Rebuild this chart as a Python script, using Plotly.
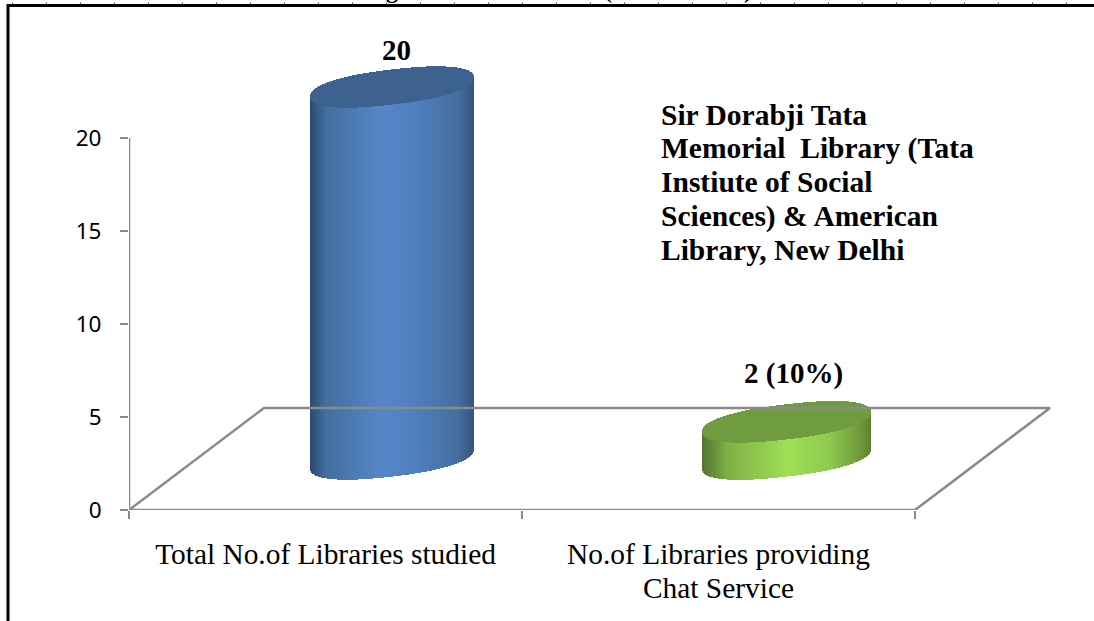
import numpy as np
import plotly.graph_objects as go

categories = ["Total No.of Libraries studied", "No.of Libraries providing"]
category_second_line = ["", "Chat Service"]
values = [20, 2]
value_labels = ["20", "2 (10%)"]
y_ticks = [0, 5, 10, 15, 20]
note_lines = ["Sir Dorabji Tata", "Memorial  Library (Tata", "Instiute of Social",
              "Sciences) & American", "Library, New Delhi"]
clipped_title_bits = [("g", 392), ("(", 608), (")", 748)]
side_stops = [
    [(0, "#2b4a72"), (0.1, "#44709f"), (0.45, "#5687c9"), (0.65, "#4f7fbf"), (0.9, "#456f9f"), (1, "#36557f")],
    [(0, "#55752f"), (0.15, "#7faf45"), (0.5, "#9fe056"), (0.75, "#90cc50"), (0.95, "#6d9538"), (1, "#5e7f30")],
]
cap_colours = ["#3d6290", "#6f9c3e"]

W, H = 1094, 621
L, R, T, B = 129, 1060, 40, 510
PX_X = 393.0       # pixels per category
PX_Y = 18.6        # pixels per value unit
DEPTH_X = 135 / PX_X
DEPTH_Y = 102 / PX_Y
half_widths = [82 / PX_X, 84.5 / PX_X]
centre_nudge = [-1 / PX_X, 0.5 / PX_X]
SHEAR = 9.5 / 82    # rise of the ellipse, per horizontal pixel
MINOR = 17.6 / PX_Y  # ellipse half height
ROUND = 2.3
GREY = "#8a8a8a"


def px(x):
    return (x - L) / (R - L)


def py(y):
    return (B - y) / (B - T)


def rgb(h):
    return np.array([int(h[i:i + 2], 16) for i in (1, 3, 5)], float)


def shade(stops, t):
    p = [s[0] for s in stops]
    c = np.array([rgb(s[1]) for s in stops])
    return ["rgb(%d,%d,%d)" % tuple(np.interp(v, p, c[:, k]) for k in range(3)) for v in t]


fig = go.Figure()

# floor and axes
fig.add_trace(go.Scatter(
    x=[-0.5, -0.5 + DEPTH_X, 1.5 + DEPTH_X, 1.5],
    y=[0, DEPTH_Y, DEPTH_Y, 0], mode="lines",
    line=dict(color=GREY, width=2.5), cliponaxis=False, hoverinfo="skip"))
fig.add_trace(go.Scatter(
    x=[-0.5, -0.5, None, -0.5, 1.5], y=[y_ticks[-1], 0, None, 0, 0], mode="lines",
    line=dict(color=GREY, width=2.5), cliponaxis=False, hoverinfo="skip"))

# cylinders, built from one-pixel bars
for i, v in enumerate(values):
    hw = half_widths[i]
    cx = i + DEPTH_X / 2 + centre_nudge[i]
    xs = np.arange(-hw, hw, 1 / PX_X) + 0.5 / PX_X
    u = np.clip(xs / hw, -1, 1)
    tilt = SHEAR * u * hw * PX_X / PX_Y
    arc = MINOR * (1 - np.abs(u) ** ROUND) ** (1 / ROUND)
    base0 = DEPTH_Y / 2 + tilt
    fig.add_trace(go.Bar(
        x=cx + xs, y=[v] * len(xs), base=base0 - arc, width=1 / PX_X,
        marker=dict(color=shade(side_stops[i], (u + 1) / 2), line=dict(width=0)),
        hoverinfo="skip"))
    fig.add_trace(go.Bar(
        x=cx + xs, y=2 * arc, base=base0 - arc + v, width=1 / PX_X,
        marker=dict(color=cap_colours[i], line=dict(width=0)),
        hoverinfo="skip"))

annotations = []
serif = "Liberation Serif"
label_shift = [3, 7]
label_y = [50, 373]
for i, (v, s) in enumerate(zip(values, value_labels)):
    annotations.append(dict(
        x=i + DEPTH_X / 2, y=v + DEPTH_Y / 2, xref="x", yref="y", text="<b>%s</b>" % s,
        showarrow=False, xanchor="center", yanchor="middle",
        xshift=label_shift[i],
        yshift=(510 - DEPTH_Y / 2 * PX_Y - v * PX_Y) - label_y[i],
        font=dict(family=serif, size=29, color="black")))
for k, line in enumerate(note_lines):
    annotations.append(dict(
        x=px(659), y=py(115 + 33.7 * k), xref="paper", yref="paper",
        text="<b>%s</b>" % line, showarrow=False, xanchor="left", yanchor="middle",
        font=dict(family=serif, size=29.5, color="black")))
for i, line in enumerate(category_second_line):
    if line:
        annotations.append(dict(
            x=i, y=py(588), xref="x", yref="paper", text=line, showarrow=False,
            xanchor="center", yanchor="middle",
            font=dict(family=serif, size=29.4, color="black")))
for bit, x in clipped_title_bits:
    annotations.append(dict(
        x=px(x), y=py(-10), xref="paper", yref="paper", text="<b>%s</b>" % bit,
        showarrow=False, xanchor="center", yanchor="middle",
        font=dict(family=serif, size=24, color="black")))

shapes = [
    dict(type="rect", xref="paper", yref="paper", x0=px(-5), x1=px(1100), y0=py(3.5), y1=py(7.5),
         fillcolor="white", line=dict(width=0), layer="above"),
    dict(type="line", xref="paper", yref="paper", x0=px(8), x1=px(1094), y0=py(5.5), y1=py(5.5),
         line=dict(color="black", width=3)),
    dict(type="line", xref="paper", yref="paper", x0=px(8), x1=px(8), y0=py(621), y1=py(4),
         line=dict(color="black", width=3)),
    dict(type="line", xref="paper", yref="paper", x0=px(12), x1=px(1094), y0=py(3.5), y1=py(3.5),
         line=dict(color="#555555", width=2, dash="1px,33px")),
]

fig.update_layout(
    width=W, height=H, barmode="overlay", bargap=0, showlegend=False,
    margin=dict(l=L, r=W - R, t=T, b=H - B, pad=0),
    paper_bgcolor="white", plot_bgcolor="white",
    annotations=annotations, shapes=shapes,
    xaxis=dict(
        range=[-0.5, (R - L) / PX_X - 0.5], showgrid=False, zeroline=False, showline=False,
        tickmode="array", tickvals=list(range(len(categories))), ticktext=categories,
        ticks="", tickangle=0, ticklabelstandoff=24,
        tickfont=dict(family=serif, size=29.4, color="black"),
        minor=dict(tickmode="array", tickvals=[-0.5, 0.5, 1.5], ticks="outside", ticklen=8,
                   tickwidth=2, tickcolor=GREY)),
    yaxis=dict(
        range=[0, (B - T) / PX_Y], showgrid=False, zeroline=False, showline=False,
        tickmode="array", tickvals=y_ticks, ticks="outside", ticklen=8, tickwidth=2,
        tickcolor=GREY, ticklabelstandoff=14,
        tickfont=dict(family="Noto Sans", size=22.5, color="black")),
)

fig.write_html("out.html", config={"displayModeBar": False},
               post_script="document.body.style.margin='0';")
